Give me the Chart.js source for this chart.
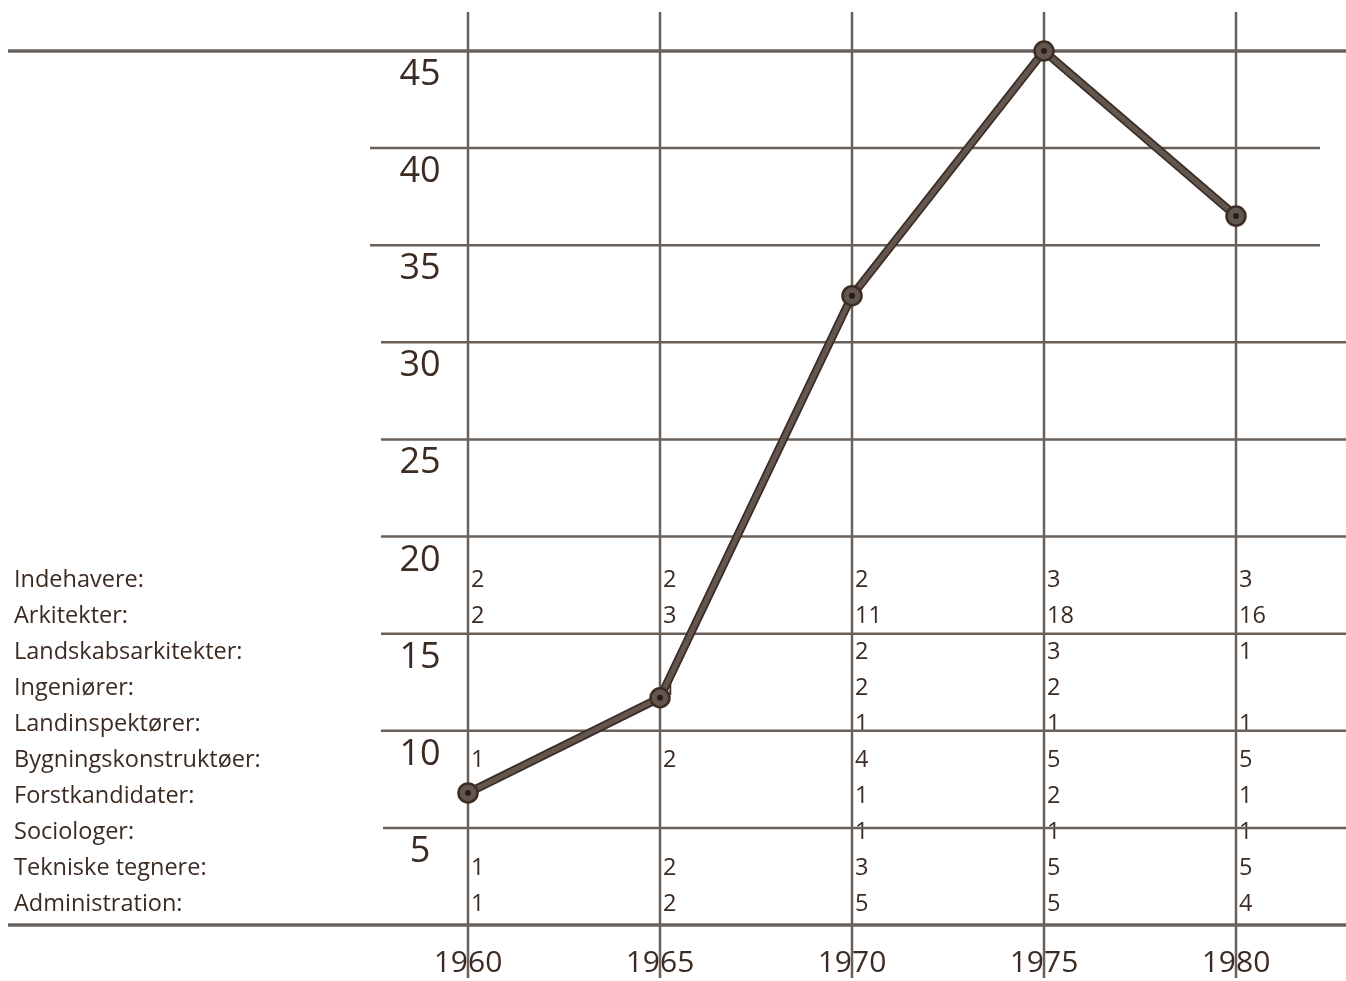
<!DOCTYPE html>
<html>
<head>
<meta charset="utf-8">
<script src="https://cdn.jsdelivr.net/npm/chart.js@4/dist/chart.umd.min.js"></script>
<style>
  html, body { margin: 0; padding: 0; background: #ffffff; }
  #wrap { width: 1346px; height: 981px; }
</style>
</head>
<body>
<div id="wrap"><canvas id="chart" width="1346" height="981"></canvas></div>
<script>
// ── data ──
const years = [1960, 1965, 1970, 1975, 1980];
const totals = [6.8, 11.7, 32.4, 45, 36.5];
const yTicks = [5, 10, 15, 20, 25, 30, 35, 40, 45];

const roles = [
  'Indehavere:',
  'Arkitekter:',
  'Landskabsarkitekter:',
  'Ingeniører:',
  'Landinspektører:',
  'Bygningskonstruktøer:',
  'Forstkandidater:',
  'Sociologer:',
  'Tekniske tegnere:',
  'Administration:'
];

// staff per role, one array per year (null = empty cell)
const staff1960 = [2, 2, null, null, null, 1, null, null, 1, 1];
const staff1965 = [2, 3, null, 1, null, 2, null, null, 2, 2];
const staff1970 = [2, 11, 2, 2, 1, 4, 1, 1, 3, 5];
const staff1975 = [3, 18, 3, 2, 1, 5, 2, 1, 5, 5];
const staff1980 = [3, 16, 1, null, 1, 5, 1, 1, 5, 4];
const staffByYear = [staff1960, staff1965, staff1970, staff1975, staff1980];

// ── style ──
const TEXT = '#3b2b22';
const GRID = '#6a605a';
const LINE_DARK = '#3a2d26';
const LINE_FILL = '#62564f';
const FONT = '"Open Sans", "Noto Sans", sans-serif';

// horizontal rule extents (px) – the outer rules run the full width
function ruleExtent(v) {
  if (v === 45 || v === 0) return [8, 1346];
  if (v === 40 || v === 35) return [370, 1320];
  if (v === 5) return [383, 1346];
  return [381, 1346];
}

const gridPlugin = {
  id: 'paperGrid',
  beforeDatasetsDraw(chart) {
    const { ctx, scales: { x, y } } = chart;
    ctx.save();

    // y tick labels (sit below their rule)
    ctx.fillStyle = TEXT;
    ctx.textAlign = 'center';
    ctx.textBaseline = 'alphabetic';
    ctx.font = `36px ${FONT}`;
    yTicks.forEach(v => ctx.fillText(String(v), 420, y.getPixelForValue(v) + 34));

    // year labels
    ctx.font = `30px ${FONT}`;
    years.forEach(yr => ctx.fillText(String(yr), x.getPixelForValue(yr), 972));

    // role names
    ctx.textAlign = 'left';
    ctx.font = `23.5px ${FONT}`;
    roles.forEach((r, i) => ctx.fillText(r, 14, 587 + 36 * i));

    // staff counts next to each year rule
    staffByYear.forEach((col, j) => {
      const px = x.getPixelForValue(years[j]) + 3;
      col.forEach((n, i) => {
        if (n != null) ctx.fillText(String(n), px, 587 + 36 * i);
      });
    });

    // rules
    ctx.strokeStyle = GRID;
    [0, ...yTicks].forEach(v => {
      const py = y.getPixelForValue(v);
      const [x0, x1] = ruleExtent(v);
      ctx.lineWidth = (v === 0 || v === 45) ? 3.5 : 2.5;
      ctx.beginPath();
      ctx.moveTo(x0, py);
      ctx.lineTo(x1, py);
      ctx.stroke();
    });
    ctx.lineWidth = 2.5;
    years.forEach(yr => {
      const px = x.getPixelForValue(yr);
      ctx.beginPath();
      ctx.moveTo(px, 12);
      ctx.lineTo(px, 978);
      ctx.stroke();
    });

    ctx.restore();
  }
};

const points = years.map((yr, i) => ({ x: yr, y: totals[i] }));

new Chart(document.getElementById('chart'), {
  type: 'line',
  data: {
    datasets: [
      {
        // centre dot of each marker
        data: points,
        showLine: false,
        pointRadius: 3,
        pointBackgroundColor: '#2a1d17',
        pointBorderWidth: 0,
        clip: false,
        order: 0
      },
      {
        data: points,
        borderColor: LINE_FILL,
        borderWidth: 5,
        pointRadius: 9.5,
        pointBackgroundColor: LINE_FILL,
        pointBorderColor: LINE_DARK,
        pointBorderWidth: 2.5,
        tension: 0,
        clip: false,
        order: 1
      },
      {
        // dark outline of the line
        data: points,
        borderColor: LINE_DARK,
        borderWidth: 8.5,
        pointRadius: 0,
        tension: 0,
        clip: false,
        order: 2
      }
    ]
  },
  options: {
    responsive: false,
    animation: false,
    devicePixelRatio: 1,
    layout: { padding: { left: 468, right: 110, top: 51, bottom: 56 } },
    plugins: { legend: { display: false }, tooltip: { enabled: false } },
    events: [],
    scales: {
      x: { type: 'linear', min: 1960, max: 1980, display: false },
      y: { type: 'linear', min: 0, max: 45, display: false }
    }
  },
  plugins: [gridPlugin]
});
</script>
</body>
</html>
